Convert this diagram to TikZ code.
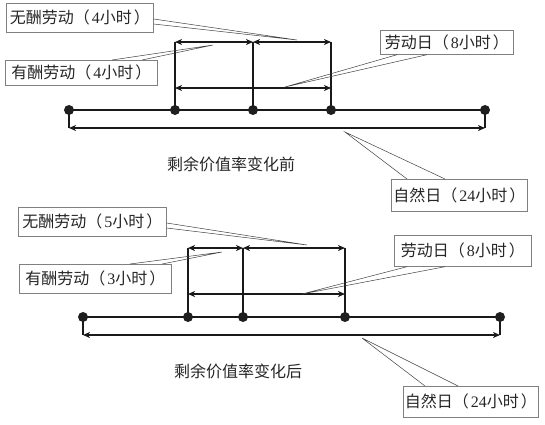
\documentclass[tikz,border=0pt]{standalone}
\usepackage{fontspec}
\setmainfont{Liberation Serif}
\newfontfamily\cjk{Noto Sans CJK SC}
\usetikzlibrary{arrows.meta,calc}
\newcommand\hrsl[2]{{\cjk #1（\kern0.12em}#2{\cjk 小时\kern0.12em）}}
\tikzset{
  dotn/.style={circle,fill=black!88,inner sep=0pt,minimum size=10pt},
  mainline/.style={line width=1.2pt,black!90},
  dimline/.style={mainline,{Stealth[length=7pt,width=6pt,inset=2pt]}-{Stealth[length=7pt,width=6pt,inset=2pt]}},
  callout/.style={line width=0.5pt,black!75},
  lbox/.style={draw=black!50,line width=0.7pt,inner sep=0pt,anchor=north west,text=black!85,font=\fontsize{16pt}{18pt}\selectfont},
  ttl/.style={text=black!85,font=\cjk\fontsize{16pt}{18pt}\selectfont}
}
\begin{document}
\begin{tikzpicture}[x=1pt,y=-1pt]
\useasboundingbox (0,0) rectangle (545,424);
% ---------- top diagram ----------
\coordinate (pa0) at (69,110);
\coordinate (pa1) at (175,110);
\coordinate (pa2) at (253,110);
\coordinate (pa3) at (331,110);
\coordinate (pa4) at (485,110);
\coordinate (ua1) at (175,42);
\coordinate (ua2) at (253,42);
\coordinate (ua3) at (331,42);
\coordinate (ma1) at (175,88);
\coordinate (ma3) at (331,88);
\coordinate (la0) at (69,128);
\coordinate (la4) at (485,128);
\draw[mainline] (pa0) -- (pa4);
\draw[mainline] (pa1) -- (ua1);
\draw[mainline] (pa2) -- (ua2);
\draw[mainline] (pa3) -- (ua3);
\draw[mainline] (pa0) -- (la0);
\draw[mainline] (pa4) -- (la4);
\draw[dimline] (ua1) -- (ua2);
\draw[dimline] (ua2) -- (ua3);
\draw[dimline] (ma1) -- (ma3);
\draw[dimline] (la0) -- (la4);
\foreach \i in {0,...,4} \node[dotn] (da\i) at (pa\i) {};

\node[lbox,minimum width=147pt,minimum height=29pt] (b1) at (6,3) {\hrsl{无酬劳动}{4}};
\node[lbox,minimum width=152pt,minimum height=25pt] (b2) at (5,60) {\hrsl{有酬劳动}{4}};
\node[lbox,minimum width=133pt,minimum height=24pt] (b3) at (380,30) {\hrsl{劳动日}{8}};
\node[lbox,minimum width=136pt,minimum height=32pt] (b4) at (391,179) {\hrsl{自然日}{24}};
\node[ttl] (n1) at (231,164) {剩余价值率变化前};

\coordinate (t1) at (297,40);
\coordinate (t2) at (213,45);
\coordinate (t3) at (285,87);
\coordinate (t4) at (345,132);
\draw[callout] ($(b1.north east)+(0,16)$) -- (t1) -- ($(b1.north east)+(0,21)$);
\draw[callout] ($(b2.north west)+(107,0)$) -- (t2) -- ($(b2.north west)+(137,0)$);
\draw[callout] ($(b3.south west)+(17,0)$) -- (t3) -- ($(b3.south west)+(47,0)$);
\draw[callout] ($(b4.north west)+(16,0)$) -- (t4) -- ($(b4.north west)+(54,0)$);

% ---------- bottom diagram ----------
\coordinate (pb0) at (83,317);
\coordinate (pb1) at (188,317);
\coordinate (pb2) at (243,317);
\coordinate (pb3) at (345,317);
\coordinate (pb4) at (500,317);
\coordinate (ub1) at (188,248);
\coordinate (ub2) at (243,248);
\coordinate (ub3) at (345,248);
\coordinate (mb1) at (188,294);
\coordinate (mb3) at (345,294);
\coordinate (lb0) at (83,335);
\coordinate (lb4) at (500,335);
\draw[mainline] (pb0) -- (pb4);
\draw[mainline] (pb1) -- (ub1);
\draw[mainline] (pb2) -- (ub2);
\draw[mainline] (pb3) -- (ub3);
\draw[mainline] (pb0) -- (lb0);
\draw[mainline] (pb4) -- (lb4);
\draw[dimline] (ub1) -- (ub2);
\draw[dimline] (ub2) -- (ub3);
\draw[dimline] (mb1) -- (mb3);
\draw[dimline] (lb0) -- (lb4);
\foreach \i in {0,...,4} \node[dotn] (db\i) at (pb\i) {};

\node[lbox,minimum width=148pt,minimum height=29pt] (b5) at (18,207) {\hrsl{无酬劳动}{5}};
\node[lbox,minimum width=152pt,minimum height=29pt] (b6) at (19,264) {\hrsl{有酬劳动}{3}};
\node[lbox,minimum width=137pt,minimum height=31pt] (b7) at (394,235) {\hrsl{劳动日}{8}};
\node[lbox,minimum width=135pt,minimum height=31pt] (b8) at (403,386) {\hrsl{自然日}{24}};
\node[ttl] (n2) at (238,371) {剩余价值率变化后};

\coordinate (t5) at (307,245);
\coordinate (t6) at (222,252);
\coordinate (t7) at (302,294);
\coordinate (t8) at (362,338);
\draw[callout] ($(b5.north east)+(0,16)$) -- (t5) -- ($(b5.north east)+(0,21)$);
\draw[callout] ($(b6.north west)+(111,0)$) -- (t6) -- ($(b6.north west)+(143,0)$);
\draw[callout] ($(b7.south west)+(13,0)$) -- (t7) -- ($(b7.south west)+(51,0)$);
\draw[callout] ($(b8.north west)+(22,0)$) -- (t8) -- ($(b8.north west)+(55,0)$);
\end{tikzpicture}
\end{document}
